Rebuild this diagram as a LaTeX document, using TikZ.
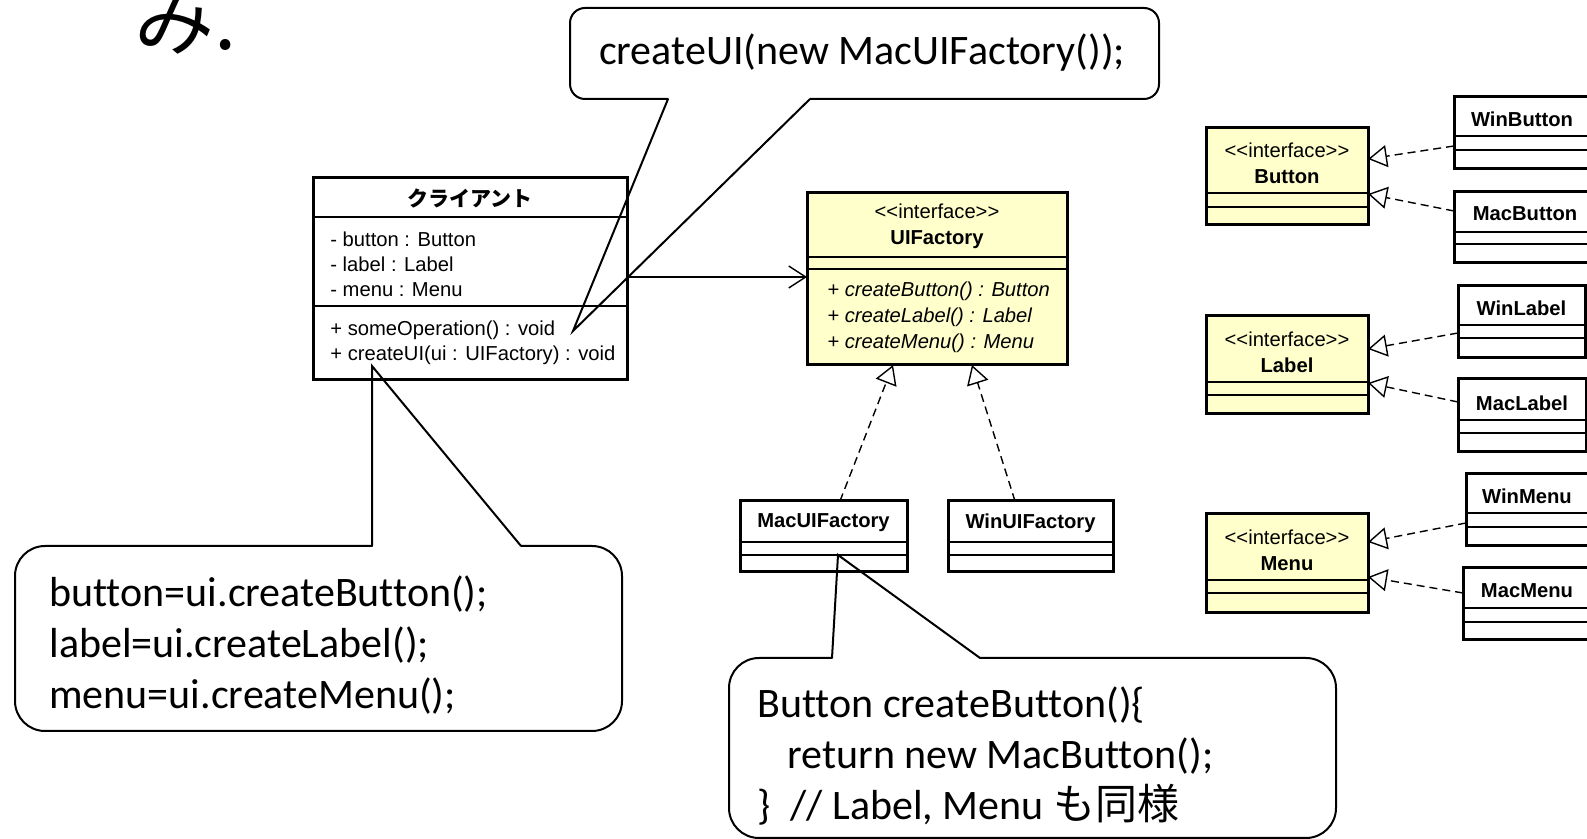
\documentclass[tikz,border=0pt]{standalone}
\usepackage{fontspec}
\setmainfont{Carlito}[Ligatures={TeX,NoCommon}]
\newfontfamily\umlfont{Liberation Sans}
\newfontfamily\jpfont{Noto Sans CJK JP}
\usetikzlibrary{arrows.meta,fit}
\definecolor{umlyellow}{RGB}{255,255,204}

\begin{document}
\begin{tikzpicture}[x=0.5pt,y=-0.5pt,
  >={Straight Barb[length=8.5pt,width=11pt]},
  cls/.style={draw,line width=1.5pt,inner sep=0pt,outer sep=0pt},
  iface/.style={cls,fill=umlyellow},
  sepline/.style={line width=0.75pt},
  uml/.style={inner sep=0pt,font=\umlfont\fontsize{10.1}{12.5}\selectfont},
  umlname/.style={inner sep=0pt,font=\umlfont\bfseries\fontsize{10.1}{12.5}\selectfont},
  stereo/.style={inner sep=0pt,align=center,font=\umlfont\fontsize{10.1}{13.2}\selectfont},
  realize/.style={line width=0.7pt,dash pattern=on 4pt off 2.5pt,
    -{Triangle[open,length=9.5pt,width=11pt,fill=white]}},
  assoc/.style={line width=0.7pt,->},
  bubble/.style={draw,line width=1pt,rounded corners=#1,inner sep=0pt,outer sep=0pt},
  bubbleline/.style={line width=1pt,line cap=round},
  gap/.style={white,line width=2.5pt},
  note/.style={inner sep=0pt,align=left,anchor=west,font=\fontsize{21}{25.6}\selectfont}]

\useasboundingbox (0,0) rectangle (1587,839);
\clip (0,0) rectangle (1587,839);

\node[anchor=base west,inner sep=0pt,font=\jpfont\fontsize{40}{40}\selectfont] (title) at (134,50) {み.};

% client class
\node[cls,fit={(313,178) (627,380)}] (client) {};
\draw[sepline] (client.west |- 0,217) -- (client.east |- 0,217);
\draw[sepline] (client.west |- 0,306) -- (client.east |- 0,306);
\node[inner sep=0pt,font=\jpfont\bfseries\fontsize{10.5}{12}\selectfont] (clientName) at (470,199) {クライアント};
\node[uml,align=left,anchor=west] (clientAttrs) at (330,264.5) {- button : Button\\- label : Label\\- menu : Menu};
\node[uml,align=left,anchor=west] (clientOps) at (330,342.5) {+ someOperation() : void\\+ createUI(ui : UIFactory) : void};

% factory interface
\node[iface,fit={(807,193) (1067,365)}] (uif) {};
\draw[sepline] (uif.west |- 0,257) -- (uif.east |- 0,257);
\draw[sepline] (uif.west |- 0,269) -- (uif.east |- 0,269);
\node[stereo] (uifName) at (937,226) {<<interface>>\\\textbf{UIFactory}};
\node[uml,align=left,anchor=west,font=\umlfont\itshape\fontsize{10.1}{13}\selectfont] (uifOps) at (827,317)
  {+ createButton() : Button\\+ createLabel() : Label\\+ createMenu() : Menu};

% concrete factories
\node[cls,fit={(740,501) (907,572)}] (macF) {};
\draw[sepline] (macF.west |- 0,542) -- (macF.east |- 0,542);
\draw[sepline] (macF.west |- 0,555) -- (macF.east |- 0,555);
\node[umlname] (macFName) at (823.5,523) {MacUIFactory};
\node[cls,fit={(948,501) (1113,572)}] (winF) {};
\draw[sepline] (winF.west |- 0,542) -- (winF.east |- 0,542);
\draw[sepline] (winF.west |- 0,555) -- (winF.east |- 0,555);
\node[umlname] (winFName) at (1030.5,523) {WinUIFactory};

% product interfaces
\node[iface,fit={(1206,128) (1368,225)}] (button) {};
\draw[sepline] (button.west |- 0,193) -- (button.east |- 0,193);
\draw[sepline] (button.west |- 0,207) -- (button.east |- 0,207);
\node[stereo] (buttonName) at (1287,163.5) {<<interface>>\\\textbf{Button}};
\node[iface,fit={(1206,316) (1368,414)}] (label) {};
\draw[sepline] (label.west |- 0,382) -- (label.east |- 0,382);
\draw[sepline] (label.west |- 0,395) -- (label.east |- 0,395);
\node[stereo] (labelName) at (1287,352.5) {<<interface>>\\\textbf{Label}};
\node[iface,fit={(1206,514) (1368,613)}] (menu) {};
\draw[sepline] (menu.west |- 0,580) -- (menu.east |- 0,580);
\draw[sepline] (menu.west |- 0,593) -- (menu.east |- 0,593);
\node[stereo] (menuName) at (1287,550) {<<interface>>\\\textbf{Menu}};

% concrete products
\node[cls,fit={(1454,97) (1590,169)}] (winBtn) {};
\draw[sepline] (winBtn.west |- 0,136) -- (winBtn.east |- 0,136);
\draw[sepline] (winBtn.west |- 0,150) -- (winBtn.east |- 0,150);
\node[umlname] (winBtnName) at (1522,119) {WinButton};
\node[cls,fit={(1454,192) (1596,263)}] (macBtn) {};
\draw[sepline] (macBtn.west |- 0,232) -- (macBtn.east |- 0,232);
\draw[sepline] (macBtn.west |- 0,244) -- (macBtn.east |- 0,244);
\node[umlname] (macBtnName) at (1525,214) {MacButton};
\node[cls,fit={(1458,286) (1585,358)}] (winLbl) {};
\draw[sepline] (winLbl.west |- 0,325) -- (winLbl.east |- 0,325);
\draw[sepline] (winLbl.west |- 0,338) -- (winLbl.east |- 0,338);
\node[umlname] (winLblName) at (1521.5,308) {WinLabel};
\node[cls,fit={(1458,379) (1586,452)}] (macLbl) {};
\draw[sepline] (macLbl.west |- 0,420) -- (macLbl.east |- 0,420);
\draw[sepline] (macLbl.west |- 0,433) -- (macLbl.east |- 0,433);
\node[umlname] (macLblName) at (1522,403) {MacLabel};
\node[cls,fit={(1466,474) (1588,546)}] (winMenu) {};
\draw[sepline] (winMenu.west |- 0,513) -- (winMenu.east |- 0,513);
\draw[sepline] (winMenu.west |- 0,527) -- (winMenu.east |- 0,527);
\node[umlname] (winMenuName) at (1527,496) {WinMenu};
\node[cls,fit={(1463,568) (1591,640)}] (macMenu) {};
\draw[sepline] (macMenu.west |- 0,608) -- (macMenu.east |- 0,608);
\draw[sepline] (macMenu.west |- 0,622) -- (macMenu.east |- 0,622);
\node[umlname] (macMenuName) at (1527,591) {MacMenu};

% relations
\draw[assoc] (client.east |- 0,277) -- (uif.west |- 0,277);
\draw[realize] (macF.north -| 840,0) -- (uif.south -| 893,0);
\draw[realize] (winF.north -| 1015,0) -- (uif.south -| 972,0);
\draw[realize] (winBtn.west |- 0,146) -- (button.east |- 0,159);
\draw[realize] (macBtn.west |- 0,211) -- (button.east |- 0,194);
\draw[realize] (winLbl.west |- 0,333) -- (label.east |- 0,349);
\draw[realize] (macLbl.west |- 0,402) -- (label.east |- 0,383);
\draw[realize] (winMenu.west |- 0,523) -- (menu.east |- 0,542);
\draw[realize] (macMenu.west |- 0,593) -- (menu.east |- 0,577);

% callouts
\node[bubble=7.5pt,minimum width=294.5pt,minimum height=45.5pt] (uiCall) at (864.5,53.5) {};
\node[note,anchor=center] (uiCallText) at (862,53) {createUI(new MacUIFactory());};
\coordinate (uiTip) at (573,331);
\draw[gap] (uiCall.south -| 668,0) -- (uiCall.south -| 810,0);
\draw[bubbleline] (uiCall.south -| 668,0) -- (uiTip) -- (uiCall.south -| 810,0);

\node[bubble=15pt,minimum width=303.5pt,minimum height=92.5pt] (clientNote) at (318.5,638.5) {};
\node[note] (clientNoteText) at (49,645) {button=ui.createButton();\\label=ui.createLabel();\\menu=ui.createMenu();};
\coordinate (clientTip) at (372,366);
\draw[gap] (clientNote.north -| clientTip) -- (clientNote.north -| 521,0);
\draw[bubbleline] (clientNote.north -| clientTip) -- (clientTip) -- (clientNote.north -| 521,0);

\node[bubble=15pt,minimum width=303.5pt,minimum height=90pt] (macNote) at (1032.5,748) {};
\node[note] (macNoteText) at (757,756) {Button createButton()\{\\\hspace{15pt}return new MacButton();\\\}\hspace{10pt}// Label, Menu {\jpfont も同様}};
\coordinate (macTip) at (838,555);
\draw[gap] (macNote.north -| 832,0) -- (macNote.north -| 980,0);
\draw[bubbleline] (macNote.north -| 832,0) -- (macTip) -- (macNote.north -| 980,0);

\end{tikzpicture}
\end{document}
